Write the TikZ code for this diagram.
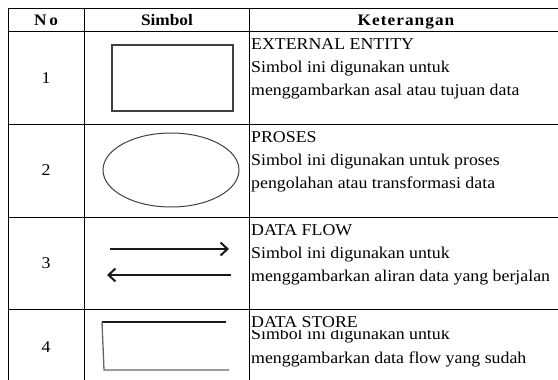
\documentclass[tikz,border=0pt]{standalone}
\usepackage{graphicx}
\usepackage{fontspec}
\setmainfont{Liberation Serif}
\usetikzlibrary{arrows.meta,shapes.geometric}

% text in the table is set slightly wide
\newcommand{\widetxt}[1]{\scalebox{1.08}[1]{#1}}

\begin{document}
\begin{tikzpicture}[x=1pt,y=-1pt,
  grid/.style={line width=1pt, black},
  txt/.style={anchor=base west, inner sep=0pt, font=\fontsize{16.5}{18}\selectfont},
  head/.style={anchor=base, inner sep=0pt, font=\fontsize{16}{18}\selectfont\bfseries},
  num/.style={anchor=center, inner sep=0pt, font=\fontsize{16.5}{18}\selectfont},
  sym/.style={line width=1.2pt, black!75},
  flow/.style={line width=2pt, black!90, -{Straight Barb[length=7pt,width=13pt,line width=2pt]}}]
\useasboundingbox (0,0) rectangle (558,380);
\fill[white] (0,0) rectangle (558,380);

% table rules
\foreach \yy in {8,31,124,217,309}
  \draw[grid] (8,\yy) -- (558,\yy);
\foreach \xx in {8,84,249}
  \draw[grid] (\xx,8) -- (\xx,380);

% header
\node[head] (hno)  at (46,26)  {\widetxt{N\,o}};
\node[head] (hsym) at (167,26) {\widetxt{Simbol}};
\node[head] (hket) at (406,26) {\widetxt{\addfontfeatures{LetterSpace=6}Keterangan}};

% row numbers
\node[num] (n1) at (46,78)  {\widetxt{1}};
\node[num] (n2) at (46,170) {\widetxt{2}};
\node[num] (n3) at (46,263) {\widetxt{3}};
\node[num] (n4) at (46,347) {\widetxt{4}};

% symbols
\draw[sym] (112,45) rectangle (233,111);
\node[draw, line width=1pt, black!75, ellipse, minimum width=136pt, minimum height=74pt, inner sep=0pt] (proc) at (171,170) {};

\coordinate (f1a) at (110,249);
\coordinate (f1b) at (229,249);
\coordinate (f2a) at (231,275);
\coordinate (f2b) at (107,275);
\draw[flow] (f1a) -- (f1b);
\draw[flow] (f2a) -- (f2b);

\coordinate (ds1) at (226,322);
\coordinate (ds2) at (102,322);
\coordinate (ds3) at (104,370);
\coordinate (ds4) at (229,370);
\draw[line width=1.2pt, black!90] (ds1) -- (ds2);
\draw[line width=1.3pt, black!60] (ds2) -- (ds3) -- (ds4);

% descriptions
\node[txt] (t11) at (251,49) {\widetxt{EXTERNAL ENTITY}};
\node[txt] (t12) at (251,72) {\widetxt{Simbol ini digunakan untuk}};
\node[txt] (t13) at (251,95) {\widetxt{menggambarkan asal atau tujuan data}};

\node[txt] (t21) at (251,142) {\widetxt{PROSES}};
\node[txt] (t22) at (251,165) {\widetxt{Simbol ini digunakan untuk proses}};
\node[txt] (t23) at (251,188) {\widetxt{pengolahan atau transformasi data}};

\node[txt] (t31) at (251,235) {\widetxt{DATA FLOW}};
\node[txt] (t32) at (251,258) {\widetxt{Simbol ini digunakan untuk}};
\node[txt] (t33) at (251,281) {\widetxt{menggambarkan aliran data yang berjalan}};

\node[txt] (t41) at (251,327) {\widetxt{DATA STORE}};
\begin{scope}
  \clip (250,330) rectangle (558,380);
  \node[txt] (t42) at (251,339) {\widetxt{Simbol ini digunakan untuk}};
\end{scope}
\node[txt] (t43) at (251,363) {\widetxt{menggambarkan data flow yang sudah}};
\end{tikzpicture}
\end{document}
